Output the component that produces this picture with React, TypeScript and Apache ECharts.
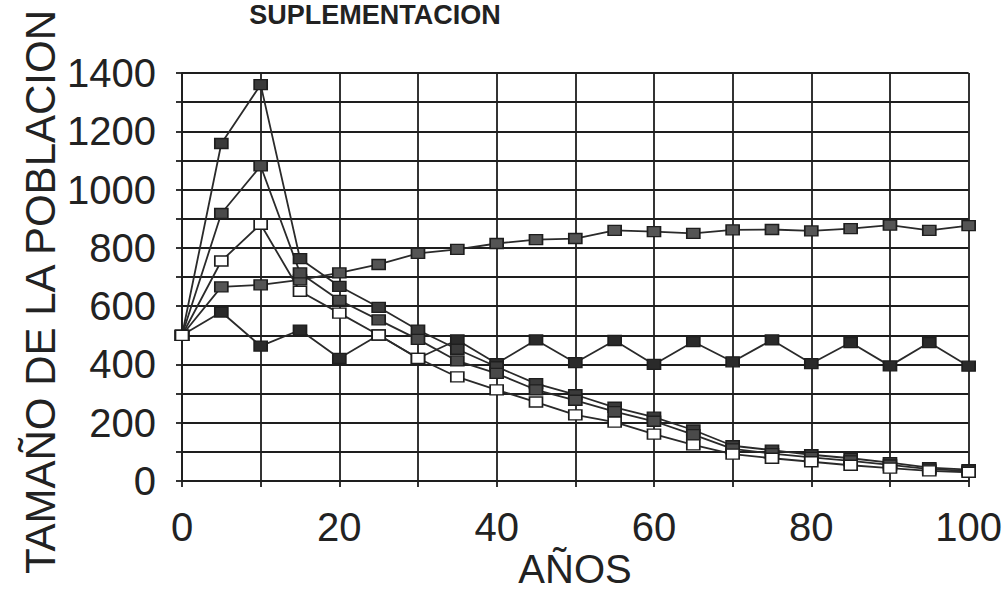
import React, { useEffect, useRef } from "react";
import * as echarts from "echarts";

const years = [0, 5, 10, 15, 20, 25, 30, 35, 40, 45, 50, 55, 60, 65, 70, 75, 80, 85, 90, 95, 100];
const seriesA = [500, 666, 673, 690, 714, 743, 781, 795, 815, 828, 832, 860, 856, 850, 862, 863, 858, 866, 878, 860, 876];
const seriesB = [500, 580, 463, 518, 421, 501, 421, 484, 403, 484, 406, 482, 400, 478, 409, 484, 403, 475, 395, 475, 394];
const seriesC = [500, 1158, 1360, 763, 668, 596, 518, 452, 392, 334, 296, 253, 219, 175, 121, 106, 90, 78, 63, 46, 39];
const seriesD = [500, 918, 1081, 714, 620, 553, 486, 412, 369, 313, 277, 238, 205, 159, 110, 94, 81, 69, 55, 41, 35];
const seriesE = [500, 755, 881, 651, 576, 501, 421, 357, 313, 271, 227, 202, 161, 124, 92, 78, 66, 54, 44, 35, 30];

const titleText = "SUPLEMENTACION";
const xName = "AÑOS";
const yName = "TAMAÑO DE LA POBLACION";

const FONT = "'Liberation Sans', Arial, sans-serif";

export default function App() {
  const ref = useRef<HTMLDivElement>(null);
  useEffect(() => {
    if (!ref.current) return;
    const chart = echarts.init(ref.current, null, { renderer: "svg" });
    const mk = (vals: number[]) => years.map((x, i) => [x, vals[i]]);
    const line = (name: string, vals: number[], fill: string) => ({
      name,
      type: "line",
      data: mk(vals),
      symbol: "rect",
      symbolSize: [13, 10],
      lineStyle: { color: "#2a2a2a", width: 1.8 },
      itemStyle: { color: fill, borderColor: "#1e1e1e", borderWidth: 1.5 },
      z: 3,
    });
    chart.setOption({
      animation: false,
      backgroundColor: "#fff",
      grid: { left: 182, right: 32, top: 73, bottom: 114 },
      xAxis: {
        type: "value",
        min: 0,
        max: 100,
        interval: 10,
        axisLine: { show: true, lineStyle: { color: "#1e1e1e", width: 1.8 } },
        axisTick: { show: true, length: 6, lineStyle: { color: "#1e1e1e", width: 1.8 } },
        splitLine: { show: true, lineStyle: { color: "#1e1e1e", width: 1.8 } },
        axisLabel: {
          fontFamily: FONT,
          fontSize: 40,
          color: "#222",
          margin: 26,
          formatter: (v: number) => (v % 20 === 0 ? String(v) : ""),
        },
      },
      yAxis: {
        type: "value",
        min: 0,
        max: 1400,
        interval: 100,
        axisLine: { show: true, lineStyle: { color: "#1e1e1e", width: 1.8 } },
        axisTick: { show: true, length: 6, lineStyle: { color: "#1e1e1e", width: 1.8 } },
        splitLine: { show: true, lineStyle: { color: "#1e1e1e", width: 1.8 } },
        axisLabel: {
          fontFamily: FONT,
          fontSize: 40,
          color: "#222",
          margin: 26,
          formatter: (v: number) => (v % 200 === 0 ? String(v) : ""),
        },
      },
      graphic: [
        {
          type: "text",
          x: 375,
          y: 1,
          style: {
            text: titleText,
            font: `bold 27px ${FONT}`,
            fill: "#222",
            textAlign: "center",
            textVerticalAlign: "top",
          },
        },
        {
          type: "text",
          x: 575,
          y: 569,
          style: {
            text: xName,
            font: `40px ${FONT}`,
            fill: "#222",
            textAlign: "center",
            textVerticalAlign: "middle",
          },
        },
        {
          type: "text",
          x: 40,
          y: 292,
          rotation: Math.PI / 2,
          style: {
            text: yName,
            font: `42px ${FONT}`,
            fill: "#222",
            textAlign: "center",
            textVerticalAlign: "middle",
          },
        },
      ],
      series: [
        line("A", seriesA, "#555"),
        line("B", seriesB, "#2a2a2a"),
        line("C", seriesC, "#3a3a3a"),
        line("D", seriesD, "#4a4a4a"),
        line("E", seriesE, "#ffffff"),
      ],
    });
    return () => chart.dispose();
  }, []);
  return (
    <div
      ref={ref}
      style={{ position: "fixed", left: 0, top: 0, width: 1005, height: 595, background: "#fff" }}
    />
  );
}
